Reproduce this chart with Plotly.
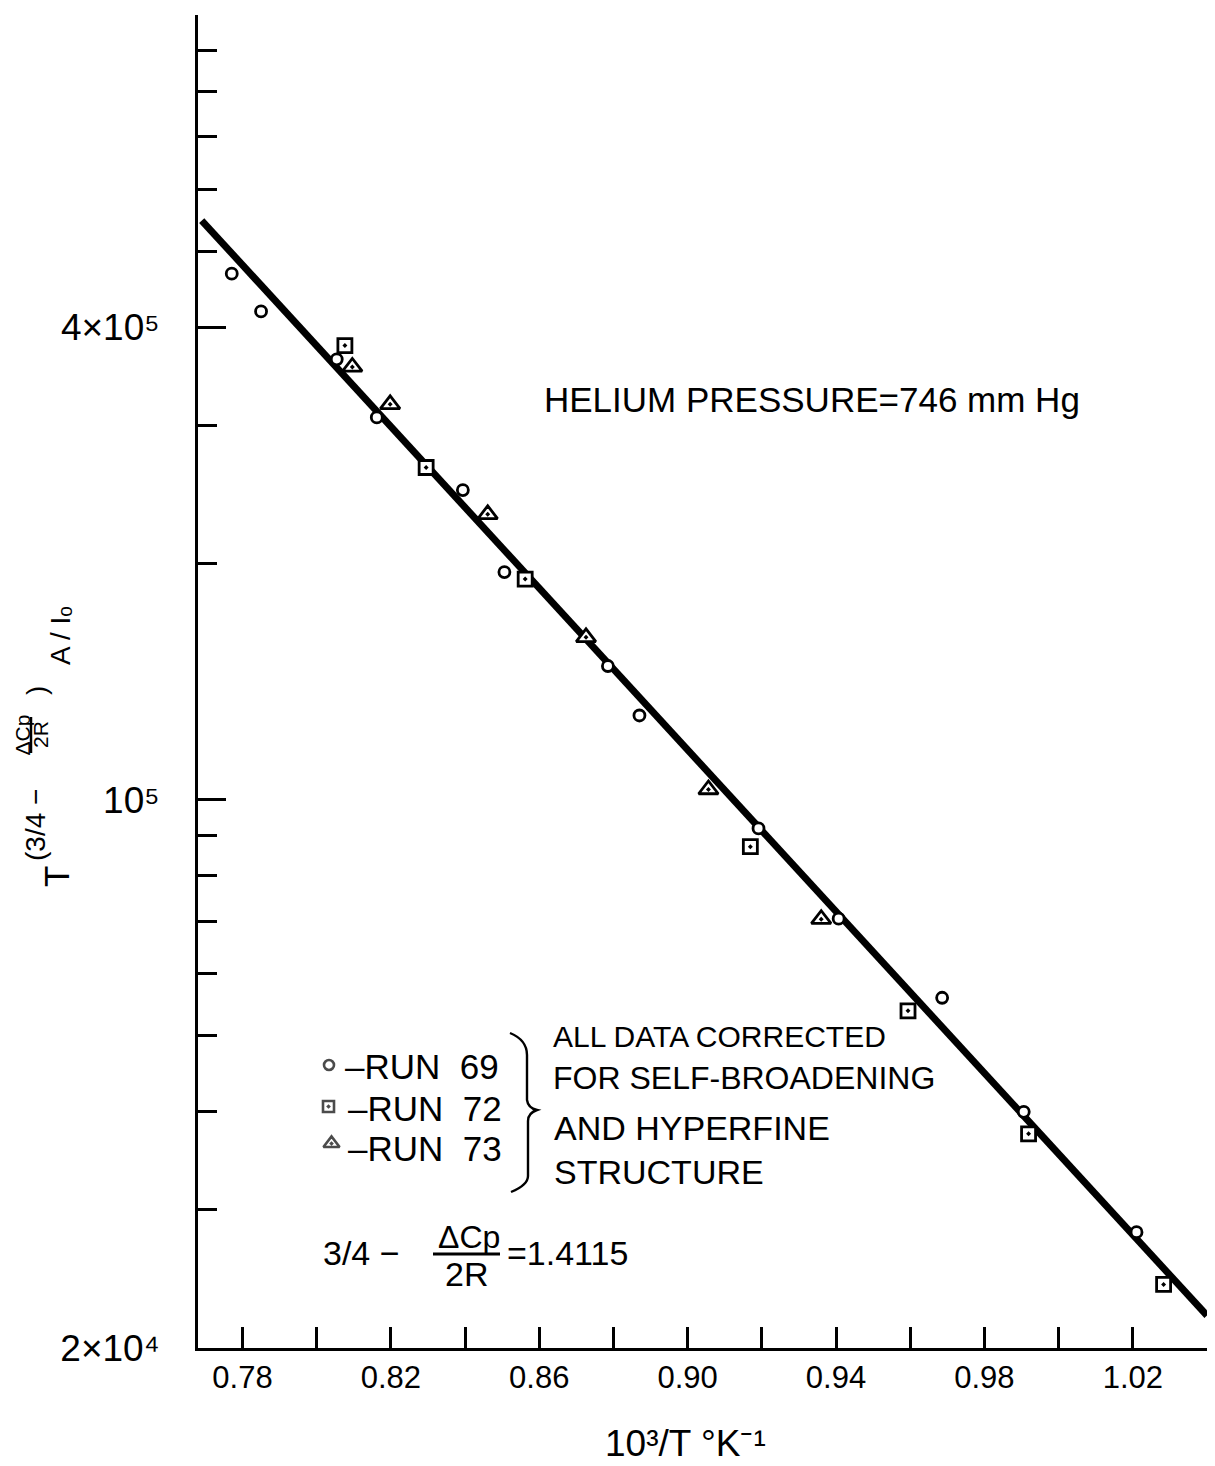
import numpy as np
import plotly.graph_objects as go

# 10^3/T (K^-1) against T^(3/4 - dCp/2R) A/I0, three runs at 746 mm Hg helium
run69_x = [0.7771, 0.7850, 0.8054, 0.8162, 0.8394, 0.8506, 0.8785, 0.8870,
           0.9191, 0.9407, 0.9686, 0.9906, 1.0210]
run69_y = [4.68e5, 4.19e5, 3.64e5, 3.07e5, 2.48e5, 1.95e5, 1.48e5, 1.28e5,
           9.19e4, 7.05e4, 5.59e4, 4.00e4, 2.81e4]

run72_x = [0.8076, 0.8295, 0.8562, 0.9169, 0.9594, 0.9919, 1.0283]
run72_y = [3.79e5, 2.65e5, 1.91e5, 8.71e4, 5.38e4, 3.75e4, 2.41e4]

run73_x = [0.8096, 0.8198, 0.8461, 0.8726, 0.9056, 0.9360]
run73_y = [3.56e5, 3.19e5, 2.31e5, 1.61e5, 1.03e5, 7.04e4]

# straight-line fit through all runs (semi-log)
fit_x = [0.769, 1.040]
fit_y = [5.47e5, 2.20e4]

# axis ticks
x_major = [0.78, 0.82, 0.86, 0.90, 0.94, 0.98, 1.02]
x_major_text = ["0.78", "0.82", "0.86", "0.90", "0.94", "0.98", "1.02"]
x_minor = [0.80, 0.84, 0.88, 0.92, 0.96, 1.00, 1.04]
y_major = [2e4, 1e5, 4e5]
y_major_text = ["2×10⁴", "10⁵", "4×10⁵"]
y_minor = [3e4, 4e4, 5e4, 6e4, 7e4, 8e4, 9e4,
           2e5, 3e5, 5e5, 6e5, 7e5, 8e5, 9e5, 1e6]

FONT = "Liberation Sans"
INK = "black"

# page geometry
FIG_W, FIG_H = 1215, 1466
M_L, M_R, M_T, M_B = 198, 8, 15, 118
PLOT_W = FIG_W - M_L - M_R
PLOT_H = FIG_H - M_T - M_B


def px(x):
    """horizontal page position -> paper fraction"""
    return (x - M_L) / PLOT_W


def py(y):
    """vertical page position -> paper fraction"""
    return (FIG_H - M_B - y) / PLOT_H


fig = go.Figure()

fig.add_trace(go.Scatter(
    x=fit_x, y=fit_y, mode="lines",
    line=dict(color=INK, width=7), hoverinfo="skip", showlegend=False))

marker_line = dict(color=INK, width=2.8)
fig.add_trace(go.Scatter(
    x=run69_x, y=run69_y, mode="markers", name="RUN 69",
    marker=dict(symbol="circle", size=11, color="white", line=marker_line),
    showlegend=False))
fig.add_trace(go.Scatter(
    x=run72_x, y=run72_y, mode="markers", name="RUN 72",
    marker=dict(symbol="square-dot", size=14, color="white", line=marker_line),
    showlegend=False))
fig.add_trace(go.Scatter(
    x=run73_x, y=run73_y, mode="markers", name="RUN 73",
    marker=dict(symbol="triangle-up-dot", size=17, color="white", line=marker_line),
    showlegend=False))

# key symbols for the run list, drawn on a hidden 0..1 overlay
fig.add_trace(go.Scatter(
    x=[px(329), px(328.5), px(331.5)],
    y=[py(1065), py(1106.5), py(1143.5)],
    xaxis="x2", yaxis="y2", mode="markers", hoverinfo="skip", showlegend=False,
    marker=dict(symbol=["circle", "square-dot", "triangle-up-dot"],
                size=[10, 11, 14], color="white", line=dict(color=INK, width=2.6))))

annotations = []


def text(s, x, y, size, xanchor="left", yanchor="middle", angle=0):
    annotations.append(dict(
        text=s, x=px(x), y=py(y), xref="paper", yref="paper",
        xanchor=xanchor, yanchor=yanchor, textangle=angle, showarrow=False,
        font=dict(family=FONT, size=size, color=INK)))


text("HELIUM PRESSURE=746 mm Hg", 542, 400, 35)

# run list
nb = "\u00a0\u00a0"
text("–RUN" + nb + "69", 343, 1066, 35)
text("–RUN" + nb + "72", 346, 1108, 35)
text("–RUN" + nb + "73", 346, 1148, 35)

text("ALL DATA CORRECTED", 551, 1036, 30)
text("FOR SELF-BROADENING", 551, 1078, 32)
text("AND HYPERFINE", 552, 1128, 34)
text("STRUCTURE", 552, 1172, 34)

# exponent value
text("3/4 −", 321, 1253, 34)
text("ΔCp", 469, 1237, 32, xanchor="center")
text("2R", 466, 1274, 34, xanchor="center")
text("=1.4115", 505, 1253, 34)

# x-axis title
text("10³/T °K⁻¹", 685, 1443, 37, xanchor="center")

# y-axis title, built up along the rotated baseline
text("T", 56, 877, 35, xanchor="center", angle=-90)
text("(3/4 −", 36, 825, 28, xanchor="center", angle=-90)
text("ΔCp", 21.5, 735, 21, xanchor="center", angle=-90)
text("2R", 40, 735, 21, xanchor="center", angle=-90)
text(")", 36, 691, 28, xanchor="center", angle=-90)
text("A / Iₒ", 60, 636, 28, xanchor="center", angle=-90)

shapes = [
    # fraction bars
    dict(type="line", xref="paper", yref="paper",
         x0=px(433), x1=px(500), y0=py(1254), y1=py(1254),
         line=dict(color=INK, width=3)),
    dict(type="line", xref="paper", yref="paper",
         x0=px(31), x1=px(31), y0=py(717), y1=py(753),
         line=dict(color=INK, width=2.5)),
    # brace grouping the runs with the correction note
    dict(type="path", xref="paper", yref="paper",
         path=(f"M{px(510)},{py(1033)} "
               f"Q{px(527)},{py(1040)} {px(527)},{py(1055)} "
               f"L{px(527)},{py(1100)} "
               f"Q{px(528)},{py(1108)} {px(537)},{py(1110)} "
               f"Q{px(528)},{py(1113)} {px(528)},{py(1121)} "
               f"L{px(528)},{py(1176)} "
               f"Q{px(528)},{py(1185)} {px(511)},{py(1192)}"),
         line=dict(color=INK, width=2.4)),
]

axis_common = dict(
    showline=True, linecolor=INK, linewidth=3, mirror=False,
    showgrid=False, zeroline=False, ticks="inside", tickcolor=INK,
    tickwidth=2.5, tickmode="array",
)

fig.update_layout(
    width=FIG_W, height=FIG_H, autosize=False,
    margin=dict(l=M_L, r=M_R, t=M_T, b=M_B, pad=0),
    paper_bgcolor="white", plot_bgcolor="white",
    font=dict(family=FONT, color=INK),
    showlegend=False,
    xaxis=dict(
        **axis_common, range=[0.768, 1.040],
        tickvals=x_major, ticktext=x_major_text, ticklen=21,
        tickfont=dict(family=FONT, size=31, color=INK),
        ticklabelstandoff=0,
        minor=dict(ticks="inside", tickmode="array", tickvals=x_minor,
                   ticklen=21, tickwidth=2.5, tickcolor=INK, showgrid=False),
    ),
    yaxis=dict(
        **axis_common, type="log", range=[np.log10(2e4), 6.0],
        tickvals=y_major, ticktext=y_major_text, ticklen=28,
        tickfont=dict(family=FONT, size=37, color=INK),
        ticklabelstandoff=28,
        minor=dict(ticks="inside", tickmode="array", tickvals=y_minor,
                   ticklen=19, tickwidth=2.5, tickcolor=INK, showgrid=False),
    ),
    xaxis2=dict(overlaying="x", range=[0, 1], visible=False),
    yaxis2=dict(overlaying="y", range=[0, 1], visible=False),
    annotations=annotations,
    shapes=shapes,
)

fig.write_html("out.html")
